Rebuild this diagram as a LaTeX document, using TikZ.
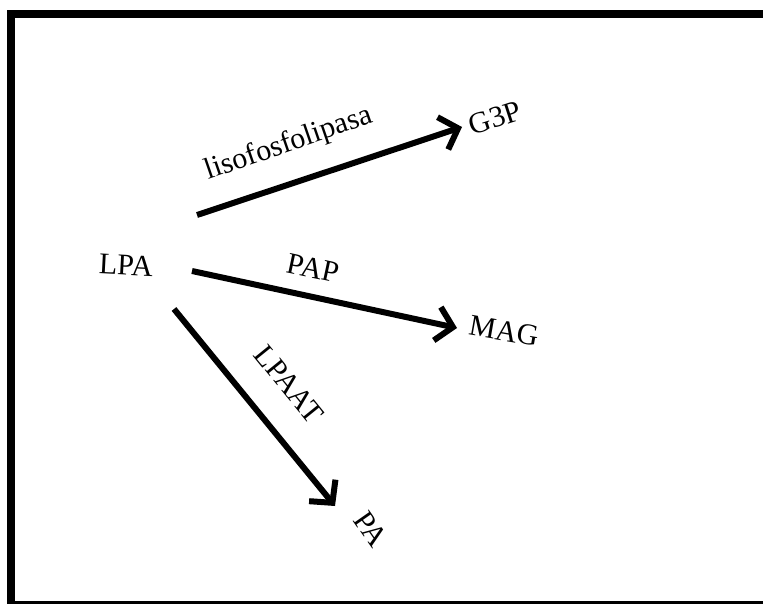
\documentclass[tikz,border=0pt]{standalone}
\usepackage{fontspec}
\setmainfont{Liberation Serif}
\usetikzlibrary{arrows.meta}
\begin{document}
\begin{tikzpicture}[x=1pt,y=-1pt,
  lbl/.style={font=\fontsize{30}{33}\selectfont, inner sep=0pt},
  arr/.style={line width=6pt, -{Straight Barb[length=16pt,width=34pt,line width=6pt]}}]
\useasboundingbox (0,0) rectangle (763,604);
\draw[line width=8pt] (11,14) rectangle (775,605);
\node[lbl, rotate=-3] (LPA) at (126,265) {LPA};
\node[lbl, rotate=18] (G3P) at (495,118) {G3P};
\node[lbl, rotate=-10] (MAG) at (504,331) {MAG};
\node[lbl, rotate=-55] (PA) at (371,529) {PA};
\node[lbl, rotate=19] (lyso) at (289,144) {lisofosfolipasa};
\node[lbl, rotate=-12] (PAP) at (313,268) {PAP};
\node[lbl, rotate=-51] (LPAAT) at (289,384) {LPAAT};
\coordinate (s1) at (197,215);
\coordinate (e1) at (462,127);
\coordinate (s2) at (192,271);
\coordinate (e2) at (457,328);
\coordinate (s3) at (174,309);
\coordinate (e3) at (335,506);
\draw[arr] (s1) -- (e1);
\draw[arr] (s2) -- (e2);
\draw[arr] (s3) -- (e3);
\end{tikzpicture}
\end{document}
